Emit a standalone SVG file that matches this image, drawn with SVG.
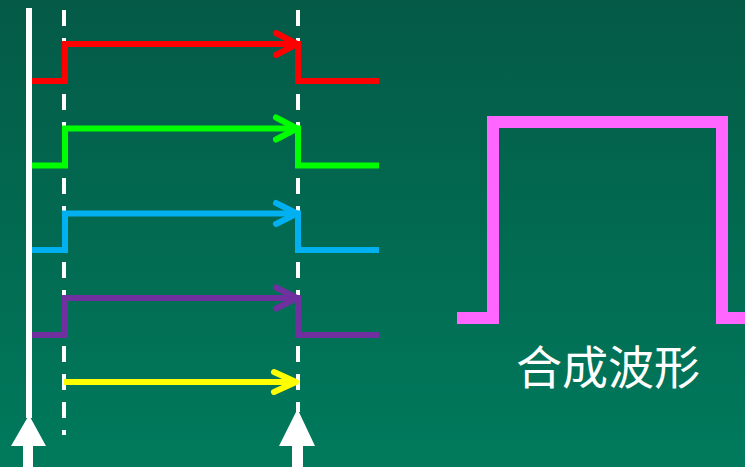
<svg xmlns="http://www.w3.org/2000/svg" width="745" height="467" viewBox="0 0 745 467">
  <defs>
    <linearGradient id="bg" x1="0" y1="0" x2="0" y2="1">
      <stop offset="0" stop-color="#045a47"/>
      <stop offset="1" stop-color="#007a5c"/>
    </linearGradient>
  </defs>
  <style>
    .dash { stroke: #ffffff; stroke-width: 4; stroke-dasharray: 16 12; fill: none; }
    .wave { fill: none; stroke-width: 6; stroke-linejoin: miter; stroke-linecap: butt; }
    .head { fill: none; stroke-width: 6; stroke-linecap: round; stroke-linejoin: round; }
    .label { font-family: "Noto Sans CJK SC", "Noto Sans", sans-serif; font-size: 46px; fill: #ffffff; }
  </style>
  <rect x="0" y="0" width="745" height="467" fill="url(#bg)"/>

  <g id="time-axis">
    <rect x="26" y="8" width="6" height="410" fill="#ffffff"/>
    <polygon points="29,415 46,446 33,446 33,467 23,467 23,446 11,446" fill="#ffffff"/>
  </g>

  <g id="dashed-lines">
    <line class="dash" x1="64" y1="10" x2="64" y2="435"/>
    <line class="dash" x1="298" y1="10" x2="298" y2="412"/>
  </g>

  <g id="end-arrow">
    <polygon points="297.5,409 315,446 303,446 303,467 292,467 292,446 279,446" fill="#ffffff"/>
  </g>

  <g id="connectors">
    <g id="red-wave" stroke="#ff0000">
      <path class="wave" d="M32,81 H65 V44 H298 V81 H379"/>
      <polyline class="head" points="276,33 297,44 276,55"/>
    </g>
    <g id="green-wave" stroke="#00ff00">
      <path class="wave" d="M32,165.5 H65 V128.5 H298 V165.5 H379"/>
      <polyline class="head" points="276,117.5 297,128.5 276,139.5"/>
    </g>
    <g id="blue-wave" stroke="#00b0f0">
      <path class="wave" d="M32,250 H65 V213.5 H298 V250 H379"/>
      <polyline class="head" points="276,203 297,213.5 276,224"/>
    </g>
    <g id="purple-wave" stroke="#7030a0">
      <path class="wave" d="M32,335 H65 V298 H298 V335 H379"/>
      <polyline class="head" points="276,287.5 297,298 276,308.5"/>
    </g>
    <g id="yellow-arrow" stroke="#ffff00">
      <line class="wave" x1="64" y1="382" x2="296" y2="382"/>
      <polyline class="head" points="274,372 296,382 274,392"/>
    </g>
  </g>

  <g id="composite">
    <path d="M457,318 H493 V122 H722 V318 H745" fill="none" stroke="#ff66ff" stroke-width="12" stroke-linejoin="miter"/>
    <text class="label" x="608" y="384" text-anchor="middle">合成波形</text>
  </g>
</svg>
